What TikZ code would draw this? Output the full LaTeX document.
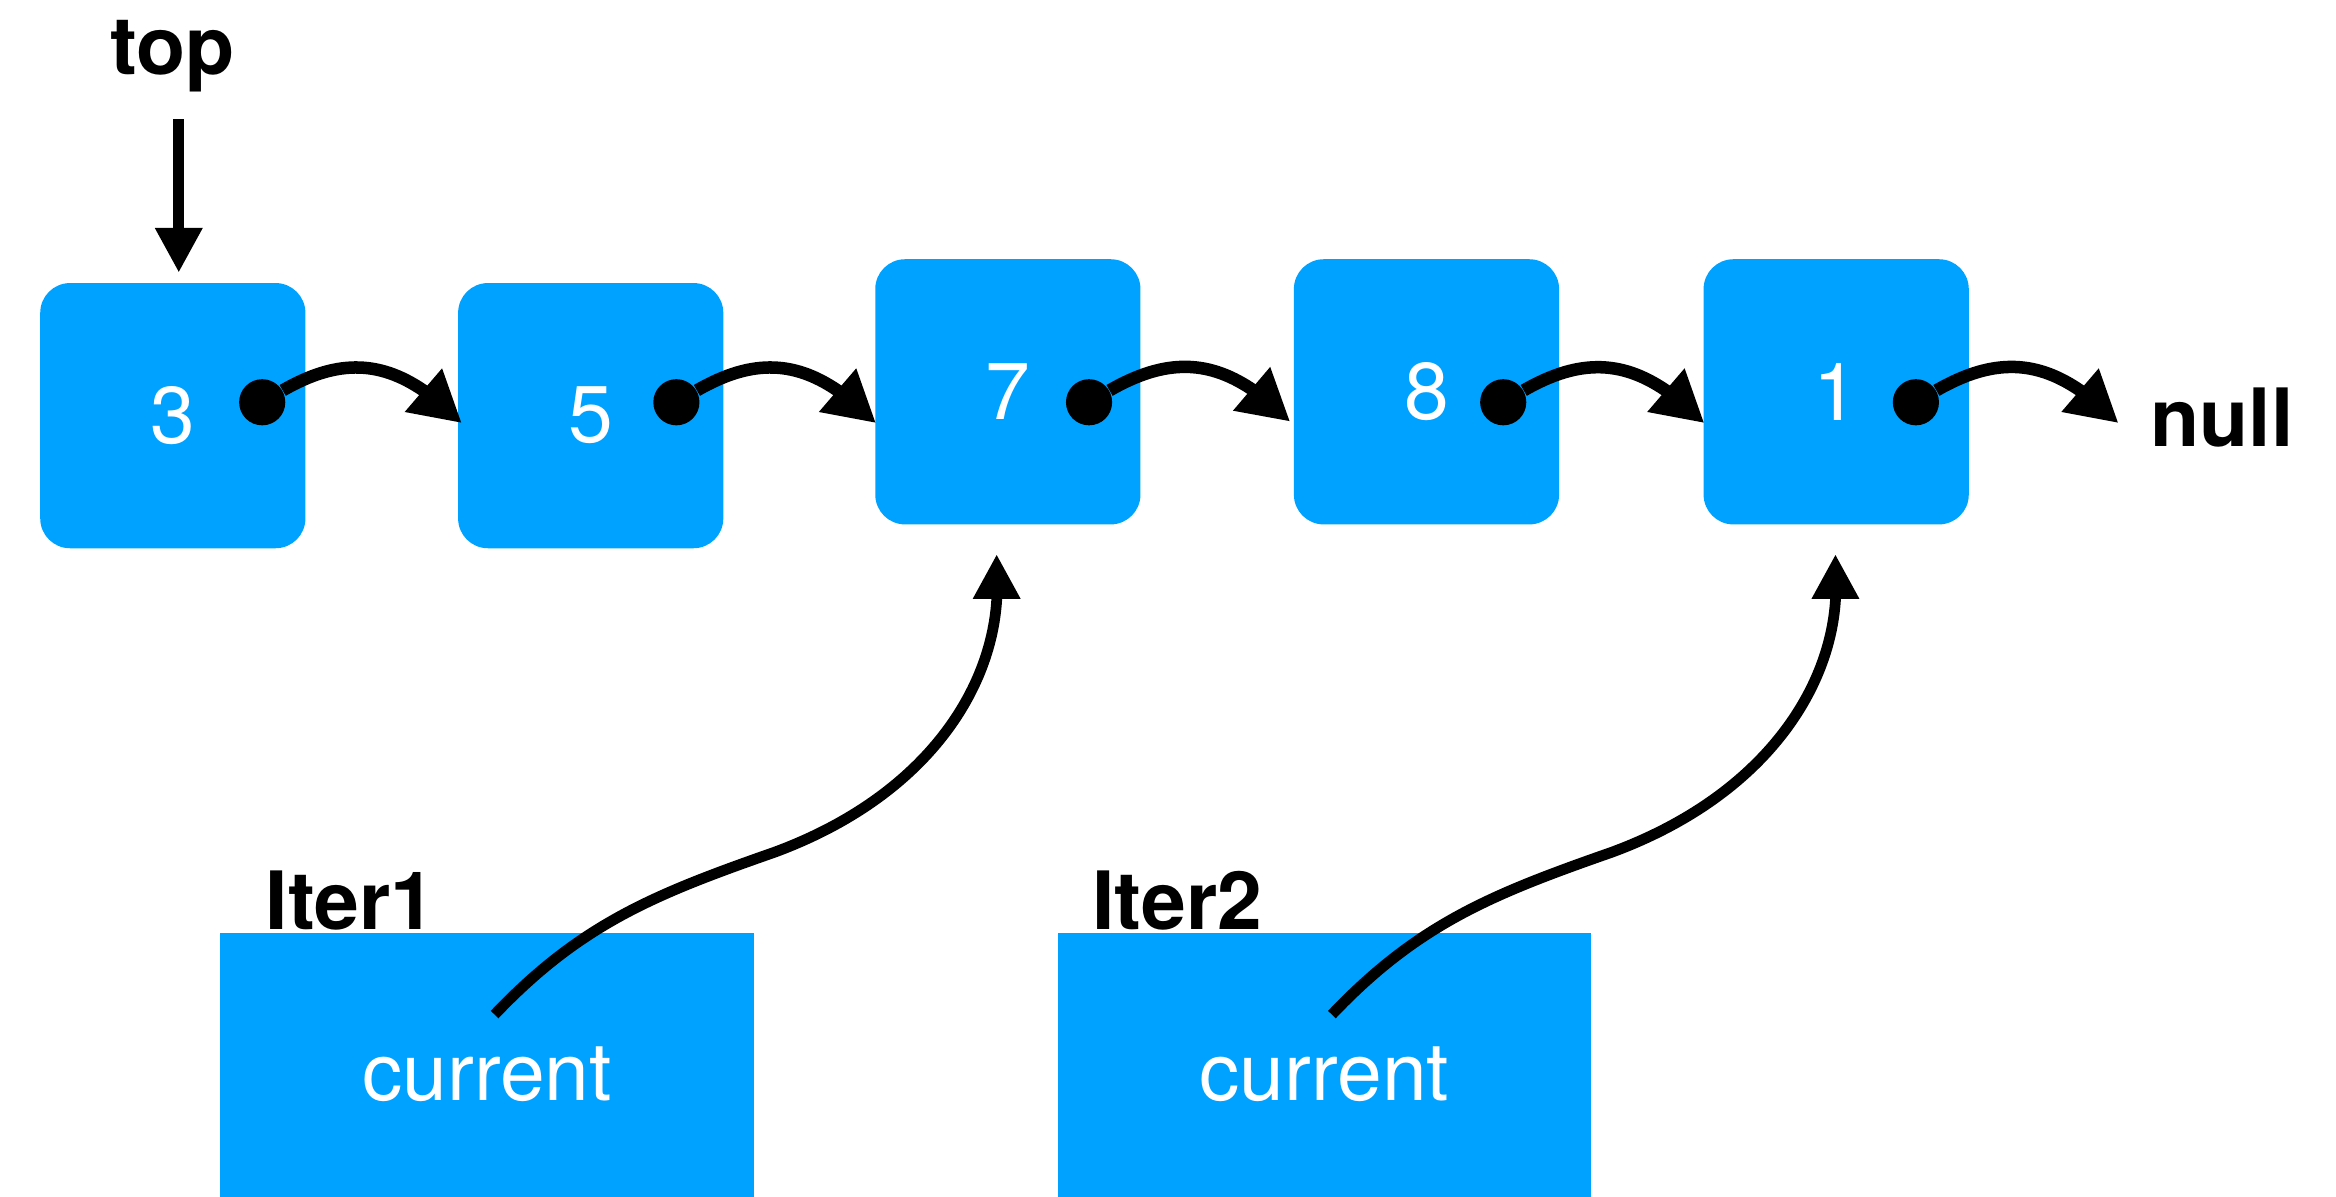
\documentclass[tikz,border=0pt]{standalone}
\usepackage{fontspec}
\setmainfont{TeX Gyre Heros}
\usetikzlibrary{arrows.meta,calc,bending}
\definecolor{nodeblue}{RGB}{0,162,255}
\begin{document}
\begin{tikzpicture}[x=0.5pt,y=-0.5pt,
  font=\fontsize{27}{32}\selectfont,
  listnode/.style={fill=nodeblue, rounded corners=10pt, minimum width=89pt, minimum height=89pt, inner sep=0pt, text=white},
  iterbox/.style={fill=nodeblue, minimum width=179pt, minimum height=95pt, inner sep=0pt, text=white},
  dotnode/.style={circle, fill=black, minimum size=15.5pt, inner sep=0pt},
  link/.style={line width=4.2pt, -{Triangle[length=17pt,width=18pt,flex]}},
  ptr/.style={line width=3.6pt, -{Triangle[length=15pt,width=15pt,quick]}},
  lbl/.style={font=\fontsize{27}{32}\selectfont\bfseries, inner sep=0pt}
]
\useasboundingbox (0,0) rectangle (1568,803);

% list nodes
\node[listnode] (n3) at (116,279) {3};
\node[listnode] (n5) at (396.5,279) {5};
\node[listnode] (n7) at (676.5,263) {7};
\node[listnode] (n8) at (957.5,263) {8};
\node[listnode] (n1) at (1232.5,263) {1};

% pointer dots
\node[dotnode] (d3) at (176,270) {};
\node[dotnode] (d5) at (454,270) {};
\node[dotnode] (d7) at (731,270) {};
\node[dotnode] (d8) at (1009,270) {};
\node[dotnode] (d1) at (1286,270) {};

% labels
\node[lbl, anchor=base] (toplbl) at (116,50) {top};
\node[lbl, anchor=base west] (nulllbl) at (1443,300) {null};
\node[lbl, anchor=base west] (it1) at (178,624) {Iter1};
\node[lbl, anchor=base west] (it2) at (733,624) {Iter2};

% iterator boxes
\node[iterbox] (b1) at (327,721) {current};
\node[iterbox] (b2) at (889,721) {current};

% link targets
\coordinate (t5) at (310,284);
\coordinate (t7) at (588,284);
\coordinate (t8) at (866,283);
\coordinate (t1) at (1144,284);
\coordinate (tn) at (1422,284);

\draw[link] (d3) to[out=30,in=135,looseness=1.15] (t5);
\draw[link] (d5) to[out=30,in=135,looseness=1.15] (t7);
\draw[link] (d7) to[out=30,in=135,looseness=1.15] (t8);
\draw[link] (d8) to[out=30,in=135,looseness=1.15] (t1);
\draw[link] (d1) to[out=30,in=135,looseness=1.15] (tn);

% top pointer
\coordinate (tops) at (120,80);
\coordinate (topt) at (120,183);
\draw[ptr] (tops) -- (topt);

% iterator pointers
\coordinate (s1) at (332,681);
\coordinate (e1) at (669,372);
\coordinate (s2) at (894,681);
\coordinate (e2) at (1232,372);
\draw[ptr] (s1) .. controls +(58,-61) and +(-80,28) .. ($(s1)+(188,-109)$)
  .. controls +(100,-37) and +(-4,62) .. ($(e1)+(0,31)$) -- (e1);
\draw[ptr] (s2) .. controls +(58,-61) and +(-80,28) .. ($(s2)+(188,-109)$)
  .. controls +(100,-37) and +(-4,62) .. ($(e2)+(0,31)$) -- (e2);
\end{tikzpicture}
\end{document}
